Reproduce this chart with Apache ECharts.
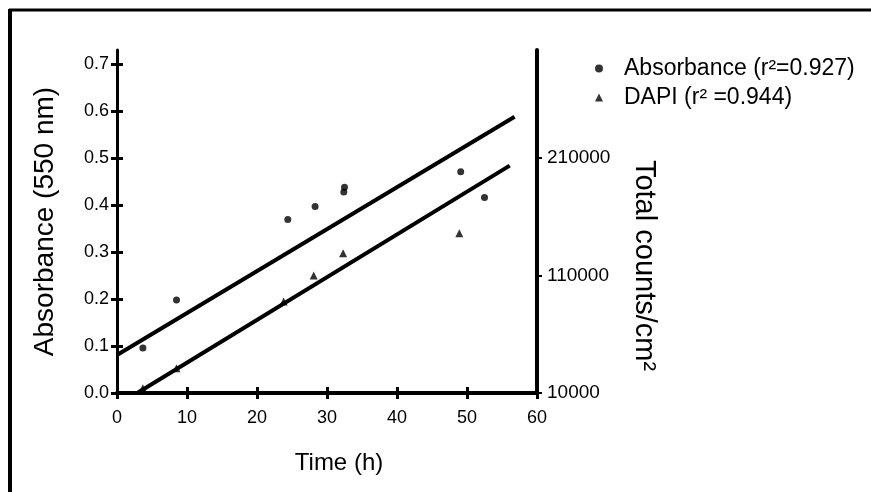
<!DOCTYPE html>
<html>
<head>
<meta charset="utf-8">
<script src="https://cdn.jsdelivr.net/npm/echarts@6/dist/echarts.min.js"></script>
<style>
  html, body { margin: 0; padding: 0; background: #fff; }
  #chart { width: 871px; height: 492px; }
</style>
</head>
<body>
<div id="chart"></div>
<script>
const absorbanceTimes = [3.7, 8.5, 24.4, 28.3, 32.4, 32.5, 49.1, 52.5];
const absorbanceValues = [0.096, 0.198, 0.369, 0.397, 0.428, 0.438, 0.471, 0.416];
const dapiTimes = [3.7, 8.5, 23.8, 28.1, 32.3, 48.9];
const dapiCounts = [14000, 31000, 88000, 110000, 129000, 146000];

// regression lines (end points)
const absorbanceFitTimes = [0, 56.8];
const absorbanceFitValues = [0.081, 0.588];
const dapiFitTimes = [2.9, 56.1];
const dapiFitCounts = [10000, 203600];

// tick labels
const timeTicks = [0, 10, 20, 30, 40, 50, 60];
const absorbanceTicks = [0, 0.1, 0.2, 0.3, 0.4, 0.5, 0.6, 0.7];
const countTicks = [10000, 110000, 210000];

const legendNames = ["Absorbance (r\u00b2=0.927)", "DAPI (r\u00b2 =0.944)"];

const font = '"Liberation Sans", Arial, sans-serif';
const zip = (xs, ys) => xs.map((x, i) => [x, ys[i]]);

const chart = echarts.init(document.getElementById("chart"));

const option = {
  animation: false,
  backgroundColor: "#fff",
  textStyle: { fontFamily: font, color: "#000" },
  grid: { left: 117, right: 334, top: 50, bottom: 99 },
  legend: {
    data: legendNames,
    orient: "vertical",
    left: 590,
    top: 52,
    itemWidth: 8,
    itemHeight: 8,
    itemGap: 6,
    textStyle: { fontFamily: font, fontSize: 23, color: "#000", padding: [0, 0, 0, 16] },
  },
  xAxis: [
    {
      type: "value",
      min: 0,
      max: 60,
      interval: 10,
      name: "Time (h)",
      nameLocation: "middle",
      nameGap: 58,
      nameTextStyle: { fontSize: 24, color: "#000", fontFamily: font, padding: [0, 0, 0, 24] },
      axisLine: { onZero: false, lineStyle: { color: "#000", width: 4 } },
      axisTick: { length: 6, lineStyle: { color: "#000", width: 3 } },
      axisLabel: {
        color: "#000",
        fontSize: 18,
        margin: 16,
        fontFamily: font,
        customValues: timeTicks,
      },
      splitLine: { show: false },
    },
    {
      // inner half of the crossing ticks
      type: "value",
      min: 0,
      max: 60,
      interval: 10,
      position: "bottom",
      axisLine: { show: false, onZero: false },
      axisTick: { inside: true, length: 6, lineStyle: { color: "#000", width: 3 } },
      axisLabel: { show: false },
      splitLine: { show: false },
    },
  ],
  yAxis: [
    {
      type: "value",
      min: 0,
      max: 0.73,
      position: "left",
      name: "Absorbance (550 nm)",
      nameLocation: "middle",
      nameGap: 58,
      nameRotate: 90,
      nameTextStyle: { fontSize: 28, color: "#000", fontFamily: font },
      axisLine: { show: true, onZero: false, lineStyle: { color: "#000", width: 3 } },
      axisTick: { length: 6, customValues: absorbanceTicks, lineStyle: { color: "#000", width: 3 } },
      axisLabel: {
        color: "#000",
        fontSize: 18,
        margin: 8,
        fontFamily: font,
        customValues: absorbanceTicks,
        formatter: (v) => v.toFixed(1),
      },
      splitLine: { show: false },
    },
    {
      type: "value",
      min: 10000,
      max: 302000,
      position: "right",
      name: "Total counts/cm\u00b2",
      nameLocation: "middle",
      nameGap: 92,
      nameRotate: -90,
      nameTextStyle: { fontSize: 29, color: "#000", fontFamily: font, padding: [0, 0, 0, 88] },
      axisLine: { show: true, onZero: false, lineStyle: { color: "#000", width: 4 } },
      axisTick: { length: 5, customValues: countTicks, lineStyle: { color: "#000", width: 2 } },
      axisLabel: {
        color: "#000",
        fontSize: 19,
        margin: 10,
        fontFamily: font,
        customValues: countTicks,
        formatter: (v) => String(v),
      },
      splitLine: { show: false },
    },
    {
      // inner half of the left axis ticks
      type: "value",
      min: 0,
      max: 0.73,
      position: "left",
      axisLine: { show: false, onZero: false },
      axisTick: { inside: true, length: 6, customValues: absorbanceTicks, lineStyle: { color: "#000", width: 3 } },
      axisLabel: { show: false },
      splitLine: { show: false },
    },
  ],
  series: [
    {
      name: legendNames[0],
      type: "scatter",
      yAxisIndex: 0,
      symbol: "circle",
      symbolSize: 7,
      itemStyle: { color: "#000" },
      data: zip(absorbanceTimes, absorbanceValues),
      z: 5,
    },
    {
      name: legendNames[1],
      type: "scatter",
      yAxisIndex: 1,
      symbol: "triangle",
      symbolSize: 8,
      itemStyle: { color: "#000" },
      data: zip(dapiTimes, dapiCounts),
      z: 5,
    },
    {
      name: "absorbance fit",
      type: "line",
      yAxisIndex: 0,
      showSymbol: false,
      symbol: "none",
      lineStyle: { color: "#000", width: 4 },
      data: zip(absorbanceFitTimes, absorbanceFitValues),
    },
    {
      name: "dapi fit",
      type: "line",
      yAxisIndex: 1,
      showSymbol: false,
      symbol: "none",
      lineStyle: { color: "#000", width: 4 },
      data: zip(dapiFitTimes, dapiFitCounts),
    },
  ],
  graphic: [
    { type: "line", shape: { x1: 9, y1: 10, x2: 871, y2: 10 }, style: { stroke: "#000", lineWidth: 3 } },
    { type: "line", shape: { x1: 10, y1: 9, x2: 10, y2: 492 }, style: { stroke: "#000", lineWidth: 4 } },
  ],
};

chart.setOption(option);
</script>
</body>
</html>
